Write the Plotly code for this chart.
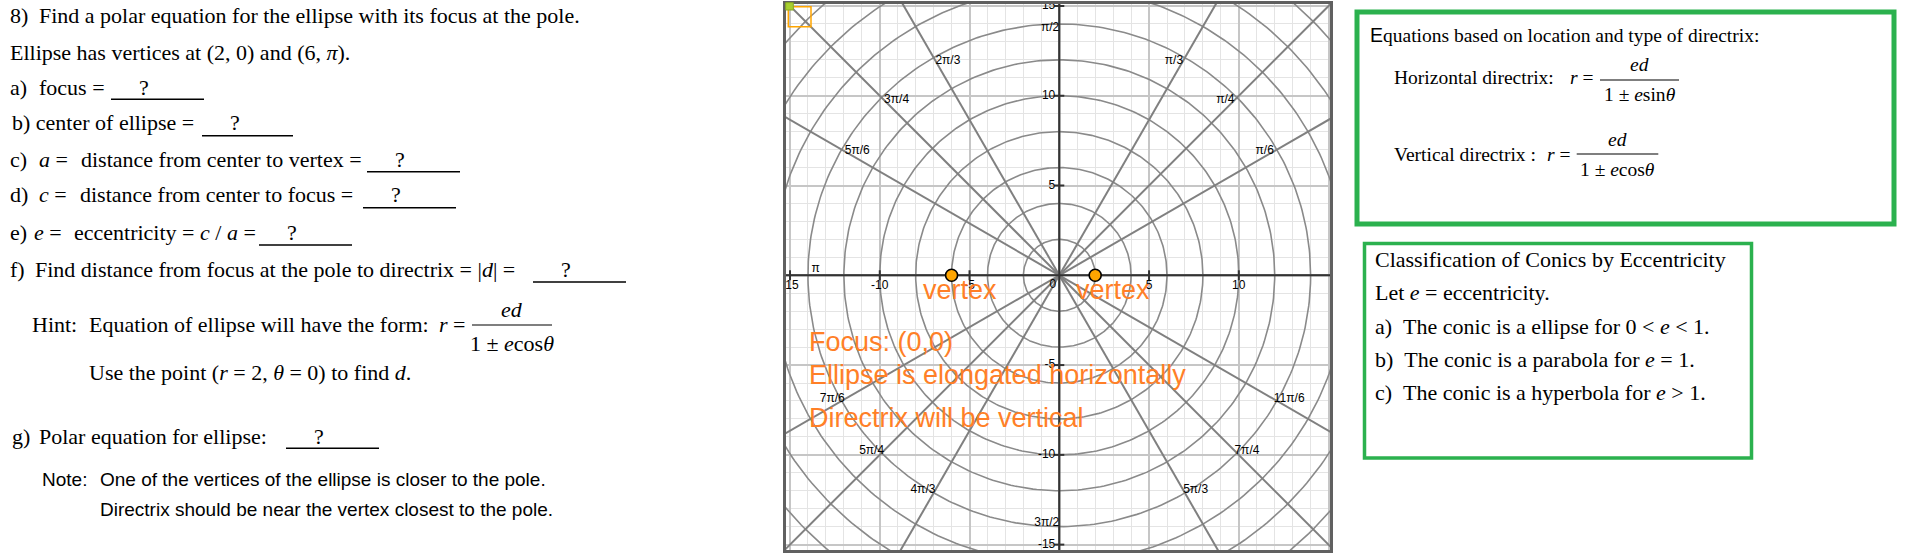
import numpy as np
import plotly.graph_objects as go

# polar grid data
circle_radii = [2, 4, 6, 8, 10, 12, 14, 16, 18, 20, 22]
ray_angles = [0, 30, 45, 60, 90, 120, 135, 150, 180, 210, 225, 240, 270, 300, 315, 330]
label_angles = [30, 45, 60, 90, 120, 135, 150, 180, 210, 225, 240, 270, 300, 315, 330]
label_texts = ["π/6", "π/4", "π/3", "π/2", "2π/3", "3π/4", "5π/6", "π",
               "7π/6", "5π/4", "4π/3", "3π/2", "5π/3", "7π/4", "11π/6"]
x_ticks = [-15, -10, -5, 5, 10]
y_ticks = [-15, -10, -5, 5, 10, 15]

# the two vertices (r, theta in degrees)
vertex_r = [6, 2]
vertex_deg = [180, 0]
vertex_text = ["vertex", "vertex"]
vertex_dx = [-31, -21]   # label offsets in px

W, H = 1909, 560
PL, PR, PT, PB = 785.7, 1330.0, 4.0, 550.0   # plot frame in px
x_range = [-15.24, 15.08]
y_range = [-15.3, 15.11]
unit = (PR - PL) / (x_range[1] - x_range[0])   # px per unit
label_r = 13.8

SERIF = "Liberation Serif, Times New Roman, serif"
SANS = "Liberation Sans, Arial, sans-serif"
ORANGE = "#ff7f27"
GREEN = "#2bb14e"
NB = "\u00a0"

fig = go.Figure()

# circles
t = np.linspace(0, 2 * np.pi, 361)
cx, cy = [], []
for r in circle_radii:
    cx += list(r * np.cos(t)) + [None]
    cy += list(r * np.sin(t)) + [None]
fig.add_trace(go.Scatter(x=cx, y=cy, mode="lines", line=dict(color="#8a8a8a", width=1.6),
                         hoverinfo="skip"))

# rays
rx, ry = [], []
for a in ray_angles:
    th = np.radians(a)
    rx += [0, 25 * np.cos(th), None]
    ry += [0, 25 * np.sin(th), None]
fig.add_trace(go.Scatter(x=rx, y=ry, mode="lines", line=dict(color="#808080", width=2),
                         hoverinfo="skip"))

# axes + ticks
tl = 5 / unit
ax_x = [x_range[0], x_range[1], None, 0, 0, None]
ax_y = [0, 0, None, y_range[0], y_range[1], None]
for v in x_ticks:
    ax_x += [v, v, None]
    ax_y += [-tl, tl, None]
for v in y_ticks:
    ax_x += [-tl, tl, None]
    ax_y += [v, v, None]
fig.add_trace(go.Scatter(x=ax_x, y=ax_y, mode="lines", line=dict(color="#333333", width=2),
                         hoverinfo="skip"))

tick_font = dict(family=SANS, size=12, color="black")
fig.add_trace(go.Scatter(x=x_ticks, y=[-10.5 / unit] * len(x_ticks), mode="text",
                         text=[str(v) for v in x_ticks], textposition="middle center",
                         textfont=tick_font, cliponaxis=True, hoverinfo="skip"))
fig.add_trace(go.Scatter(x=[-4 / unit] * len(y_ticks), y=y_ticks, mode="text",
                         text=[str(v) for v in y_ticks], textposition="middle left",
                         textfont=tick_font, cliponaxis=True, hoverinfo="skip"))
fig.add_trace(go.Scatter(x=[-3 / unit], y=[-10 / unit], mode="text", text=["0"],
                         textposition="middle left", textfont=tick_font, hoverinfo="skip"))


def label_pos(a):
    if a == 180:
        return "top right"
    if a in (90, 270) or 0 < a < 90 or 180 < a < 270:
        return "middle left"
    return "middle right"


lth = np.radians(label_angles)
fig.add_trace(go.Scatter(x=label_r * np.cos(lth), y=label_r * np.sin(lth), mode="text",
                         text=label_texts, textposition=[label_pos(a) for a in label_angles],
                         textfont=tick_font, hoverinfo="skip"))

# vertices
vth = np.radians(vertex_deg)
vx = np.array(vertex_r) * np.cos(vth)
vy = np.array(vertex_r) * np.sin(vth)
fig.add_trace(go.Scatter(x=vx, y=vy, mode="markers",
                         marker=dict(size=12, color="#ffa500", line=dict(color="black", width=1.6)),
                         hoverinfo="skip"))
for x, y, s, dx in zip(vx, vy, vertex_text, vertex_dx):
    fig.add_annotation(x=x, y=y, xref="x", yref="y", text=s, showarrow=False,
                       xanchor="left", yanchor="bottom", xshift=dx, yshift=-(25 + 0.212 * 27 + 1),
                       font=dict(family=SANS, size=27, color=ORANGE))


def txt(x, base, s, size=22, family=SERIF, anchor="left", color="black"):
    desc = 0.216 if family == SERIF else 0.212
    fig.add_annotation(x=x / W, y=1 - (base + desc * size + 1) / H, xref="paper", yref="paper",
                       text=s, showarrow=False, xanchor=anchor, yanchor="bottom",
                       font=dict(family=family, size=size, color=color))


def hline(x0, x1, y, width=1.5, color="black"):
    fig.add_shape(type="line", xref="paper", yref="paper", x0=x0 / W, x1=x1 / W,
                  y0=1 - y / H, y1=1 - y / H, line=dict(color=color, width=width))


def blank(x0, x1, y, base):
    hline(x0, x1, y)
    txt(x0 + 33, base, "?", anchor="center")


# orange notes on the graph
txt(806.7, 352.7, "Focus: (0,0)", 27, SANS, color=ORANGE)
txt(806.7, 385, "Ellipse is elongated horizontally", 27, SANS, color=ORANGE)
txt(806.7, 428, "Directrix will be vertical", 27, SANS, color=ORANGE)

# left worksheet text
txt(8.3, 24, "8)")
txt(37.3, 24, "Find a polar equation for the ellipse with its focus at the pole.")
txt(8.3, 61, "Ellipse has vertices at (2, 0) and (6, <i>π</i>).")
txt(8.3, 96, "a)")
txt(37.3, 96, "focus =")
blank(111, 204, 99.3, 96)
txt(10, 131, "b) center of ellipse =")
blank(202, 293, 135.7, 131)
txt(8.3, 168, "c)")
txt(36.7, 168, "<i>a</i> =")
txt(79, 168, "distance from center to vertex =")
blank(367, 460, 171.7, 168)
txt(8.3, 203, "d)")
txt(37, 203, "<i>c</i> =")
txt(77.7, 203, "distance from center to focus =")
blank(363, 456, 207.7, 203)
txt(8.3, 241, "e)")
txt(31.7, 241, "<i>e</i> =")
txt(71.7, 241, "eccentricity = <i>c</i> / <i>a</i> =")
blank(259, 352, 245, 241)
txt(8.3, 278, "f)")
txt(33.3, 278, "Find distance from focus at the pole to directrix = |<i>d</i>| =")
blank(533, 626, 282, 278)
txt(30, 333, "Hint:")
txt(86.7, 333, "Equation of ellipse will have the form:")
txt(436.7, 333, "<i>r</i> =")
txt(512, 318, "<i>ed</i>", anchor="center")
hline(472, 552, 325, 1.2)
txt(512, 352, "1" + NB + "±" + NB + "<i>e</i>cos<i>θ</i>", anchor="center")
txt(87.3, 381.7, "Use the point (<i>r</i> = 2, <i>θ</i> = 0) to find <i>d</i>.")
txt(10, 445, "g)")
txt(37.3, 445, "Polar equation for ellipse:")
blank(286, 379, 448.3, 445)
txt(40, 487, "Note:", 19, SANS)
txt(98, 487, "One of the vertices of the ellipse is closer to the pole.", 19, SANS)
txt(98, 517, "Directrix should be near the vertex closest to the pole.", 19, SANS)

# box 1: equations
txt(1368.3, 42.7, '<span style="font-family:Liberation Sans">E</span>quations based on location and type of directrix:', 19.5)
txt(1391.7, 85, "Horizontal directrix:", 19.5)
txt(1568.3, 85, "<i>r</i> =", 19.5)
txt(1639.5, 71.7, "<i>ed</i>", 19.5, anchor="center")
hline(1600, 1679, 80, 1.2)
txt(1639.5, 101.7, "1" + NB + "±" + NB + "<i>e</i>sin<i>θ</i>", 19.5, anchor="center")
txt(1391.7, 161.7, "Vertical directrix :", 19.5)
txt(1545, 161.7, "<i>r</i> =", 19.5)
txt(1617.5, 146.7, "<i>ed</i>", 19.5, anchor="center")
hline(1576.7, 1658.3, 154, 1.2)
txt(1617.5, 176.7, "1" + NB + "±" + NB + "<i>e</i>cos<i>θ</i>", 19.5, anchor="center")

# box 2: classification
txt(1373.3, 268.3, "Classification of Conics by Eccentricity")
txt(1373.3, 301.7, "Let <i>e</i> = eccentricity.")
txt(1373.3, 335, "a)" + NB + NB + "The conic is a ellipse for 0 &lt; <i>e</i> &lt; 1.")
txt(1373.3, 368.3, "b)" + NB + NB + "The conic is a parabola for <i>e</i> = 1.")
txt(1373.3, 401.7, "c)" + NB + NB + "The conic is a hyperbola for <i>e</i> &gt; 1.")

fig.add_shape(type="rect", xref="paper", yref="paper", x0=1357 / W, x1=1894 / W,
              y0=1 - 12 / H, y1=1 - 224 / H, line=dict(color=GREEN, width=5))
fig.add_shape(type="rect", xref="paper", yref="paper", x0=1364.5 / W, x1=1751.5 / W,
              y0=1 - 243.5 / H, y1=1 - 458 / H, line=dict(color=GREEN, width=3.5))

# selection marks in the graph corner
fig.add_shape(type="rect", xref="paper", yref="paper", x0=788.3 / W, x1=811 / W,
              y0=1 - 6.7 / H, y1=1 - 26.7 / H, line=dict(color="#ffa500", width=1.5))
fig.add_shape(type="rect", xref="paper", yref="paper", x0=785.7 / W, x1=793.3 / W,
              y0=1 - 2.7 / H, y1=1 - 10 / H, line=dict(color="#88aa22", width=1),
              fillcolor="#a8d030")

grid = dict(showgrid=True, gridcolor="#c6c6c6", gridwidth=1.5, dtick=5, tick0=0,
            minor=dict(showgrid=True, dtick=1, gridcolor="#e4e4e4", gridwidth=1.2),
            zeroline=False, showticklabels=False, ticks="",
            showline=True, mirror=True, linecolor="#606060", linewidth=3)
fig.update_xaxes(range=x_range, domain=[PL / W, PR / W], **grid)
fig.update_yaxes(range=y_range, domain=[1 - PB / H, 1 - PT / H], **grid)
fig.update_layout(width=W, height=H, margin=dict(l=0, r=0, t=0, b=0),
                  paper_bgcolor="white", plot_bgcolor="white", showlegend=False)

fig.write_html("out.html", config={"displayModeBar": False},
               post_script="document.body.style.margin='0px';")
